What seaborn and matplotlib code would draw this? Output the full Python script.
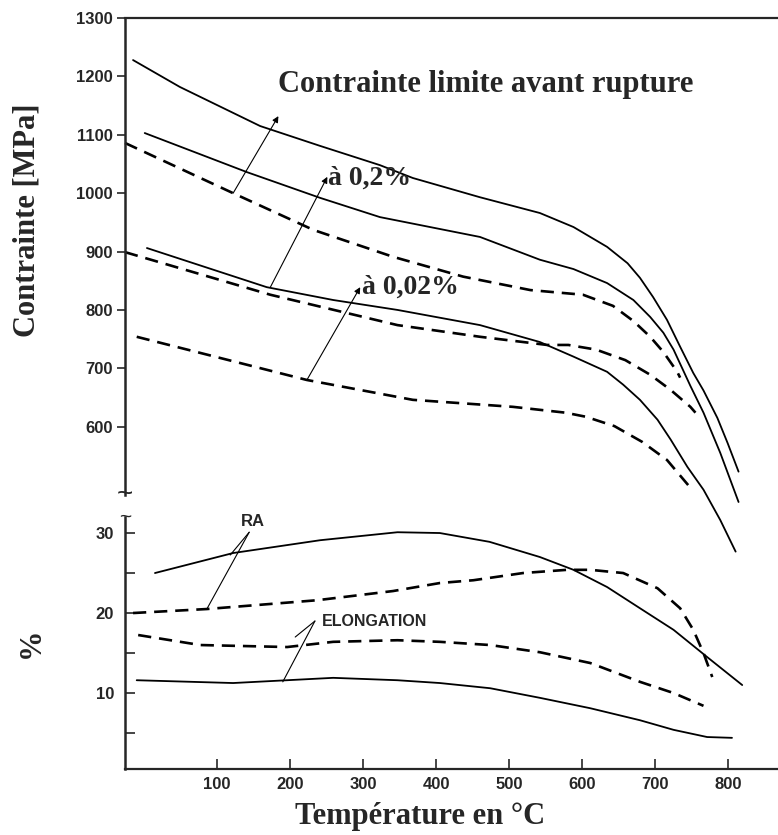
import seaborn as sns
import matplotlib.pyplot as plt

# ---- valeurs (T en °C) ----

# contraintes [MPa]
t_rupture = [-15, 49, 159, 241, 323, 368, 460, 542, 588, 634, 662, 679, 697, 716, 734, 752, 766, 785, 799, 814]
s_rupture = [1228, 1182, 1115, 1081, 1048, 1026, 993, 966, 942, 908, 880, 855, 822, 783, 737, 692, 662, 615, 572, 523]

t_02_a = [1, 141, 241, 323, 460, 542, 588, 634, 670, 693, 711, 725, 738, 748, 766, 789, 814]
s_02_a = [1103, 1036, 992, 959, 925, 886, 870, 846, 817, 788, 761, 732, 697, 670, 624, 555, 471]

t_02_b = [-26, 122, 232, 341, 437, 529, 601, 642, 670, 693, 711, 730, 734]
s_02_b = [1086, 1000, 937, 891, 857, 834, 826, 807, 781, 754, 728, 694, 684]

t_002_a = [4, 168, 259, 347, 460, 542, 588, 634, 656, 679, 703, 721, 744, 766, 789, 810]
s_002_a = [906, 839, 817, 800, 774, 745, 720, 694, 672, 646, 612, 578, 531, 492, 440, 386]

t_002_b = [-26, 173, 347, 460, 552, 581, 619, 659, 693, 721, 748, 755]
s_002_b = [899, 826, 774, 754, 740, 740, 732, 714, 689, 663, 634, 624]

t_002_c = [-10, 223, 368, 505, 577, 605, 644, 682, 716, 745]
s_002_c = [754, 680, 646, 634, 624, 617, 601, 574, 543, 500]

# pourcentages
t_ra_a = [15, 122, 241, 347, 405, 473, 542, 588, 634, 679, 725, 771, 819]
p_ra_a = [25, 27.5, 29.1, 30.1, 30, 28.9, 27, 25.4, 23.25, 20.6, 17.9, 14.5, 11]

t_ra_b = [-15, 86, 237, 341, 405, 451, 519, 579, 611, 656, 703, 734, 752, 766, 778]
p_ra_b = [20, 20.5, 21.6, 22.75, 23.75, 24.1, 25, 25.4, 25.4, 25, 23.1, 20.6, 17.9, 15, 12]

t_el_b = [-8, 77, 196, 259, 347, 405, 474, 542, 611, 679, 725, 766]
p_el_b = [17.25, 16, 15.75, 16.4, 16.6, 16.4, 16, 15.1, 13.75, 11.4, 10, 8.4]

t_el_a = [-10, 122, 259, 347, 405, 474, 542, 611, 679, 725, 771, 805]
p_el_a = [11.6, 11.25, 11.9, 11.6, 11.25, 10.6, 9.4, 8.1, 6.6, 5.4, 4.5, 4.4]

x_ticks = [100, 200, 300, 400, 500, 600, 700, 800]
s_ticks = [600, 700, 800, 900, 1000, 1100, 1200, 1300]
p_ticks = [10, 20, 30]
p_minor = [5, 15, 25]

sns.set_style('ticks')
plt.rcParams['font.family'] = ['Liberation Sans', 'DejaVu Sans']

fig = plt.figure(figsize=(7.78, 8.35), dpi=100)
ax_top = fig.add_axes([0.1607, 0.4072, 0.8393, 0.5712])
ax_bot = fig.add_axes([0.1607, 0.0790, 0.8393, 0.3018])
ax_top.set_zorder(2)
ax_top.patch.set_alpha(0)
ax_bot.patch.set_alpha(0)

plein = dict(color='black', lw=1.3, clip_on=False)
tirets = dict(color='black', lw=1.9, ls=(0, (5, 3)), clip_on=False)

# courbes de contrainte
sns.lineplot(x=t_rupture, y=s_rupture, ax=ax_top, **plein)
sns.lineplot(x=t_02_a, y=s_02_a, ax=ax_top, **plein)
sns.lineplot(x=t_02_b, y=s_02_b, ax=ax_top, **tirets)
sns.lineplot(x=t_002_a, y=s_002_a, ax=ax_top, **plein)
sns.lineplot(x=t_002_b, y=s_002_b, ax=ax_top, **tirets)
sns.lineplot(x=t_002_c, y=s_002_c, ax=ax_top, **tirets)

# courbes en %
sns.lineplot(x=t_ra_a, y=p_ra_a, ax=ax_bot, **plein)
sns.lineplot(x=t_ra_b, y=p_ra_b, ax=ax_bot, **tirets)
sns.lineplot(x=t_el_b, y=p_el_b, ax=ax_bot, **tirets)
sns.lineplot(x=t_el_a, y=p_el_a, ax=ax_bot, **plein)

# axes
for ax in (ax_top, ax_bot):
    ax.set_xlim(-26, 868)
    ax.set_xlabel('')
    ax.set_ylabel('')
    ax.spines['right'].set_visible(False)
    ax.spines['left'].set_linewidth(1.8)

ax_top.set_ylim(483, 1300)
ax_top.spines['bottom'].set_visible(False)
ax_top.spines['top'].set_linewidth(1.6)
ax_top.set_xticks([])
ax_top.set_yticks(s_ticks)
ax_top.tick_params(axis='y', direction='out', length=6, width=1.2, pad=3, labelsize=12)

ax_bot.set_ylim(0.5, 32)
ax_bot.spines['top'].set_visible(False)
ax_bot.spines['bottom'].set_linewidth(1.6)
ax_bot.set_yticks(p_ticks)
ax_bot.set_yticks(p_minor, minor=True)
ax_bot.set_xticks(x_ticks)
ax_bot.tick_params(axis='y', which='both', direction='in', length=7, width=1.2, pad=8, labelsize=12)
ax_bot.tick_params(axis='x', direction='in', length=7, width=1.2, pad=6, labelsize=12)

for lab in ax_top.get_yticklabels() + ax_bot.get_yticklabels() + ax_bot.get_xticklabels():
    lab.set_fontweight('bold')

# coupure de l'axe
ax_top.text(0, 0, '~', transform=ax_top.transAxes, ha='center', va='center', fontsize=20)
ax_bot.text(0, 1, '~', transform=ax_bot.transAxes, ha='center', va='center', fontsize=15)

# annotations
serif = ['Liberation Serif', 'DejaVu Serif']
fleche = dict(arrowstyle='-|>', color='black', lw=0.8, mutation_scale=9, shrinkA=0, shrinkB=0)
ax_top.annotate('', xy=(184, 1132), xytext=(122, 1000), arrowprops=fleche)
ax_top.annotate('', xy=(251, 1028), xytext=(173, 839), arrowprops=fleche)
ax_top.annotate('', xy=(296, 839), xytext=(223, 680), arrowprops=fleche)
ax_top.text(184, 1187, 'Contrainte limite avant rupture', family=serif, weight='bold',
            fontsize=22, ha='left', va='center')
ax_top.text(252, 1026, 'à 0,2%', family=serif, weight='bold', fontsize=20, ha='left', va='center')
ax_top.text(299, 839, 'à 0,02%', family=serif, weight='bold', fontsize=20, ha='left', va='center')

trait = dict(arrowstyle='-', color='black', lw=0.8, shrinkA=0, shrinkB=0)
ax_bot.text(149, 31.4, 'RA', fontsize=12, weight='bold', ha='center', va='center')
ax_bot.annotate('', xy=(118, 27.25), xytext=(144, 30.1), arrowprops=trait)
ax_bot.annotate('', xy=(86, 20.5), xytext=(144, 30.1), arrowprops=trait)
ax_bot.text(244, 18.9, 'ELONGATION', fontsize=11.5, weight='bold', ha='left', va='center')
ax_bot.annotate('', xy=(207, 17), xytext=(234, 19), arrowprops=trait)
ax_bot.annotate('', xy=(190, 11.4), xytext=(234, 19), arrowprops=trait)

fig.text(0.0347, 0.7365, 'Contrainte [MPa]', family=serif, weight='bold', fontsize=22,
         rotation=90, ha='center', va='center')
fig.text(0.04, 0.23, '%', family=serif, weight='bold', fontsize=22,
         rotation=90, ha='center', va='center')
fig.text(0.54, 0.0216, 'Température en °C', family=serif, weight='bold', fontsize=22,
         ha='center', va='center')

fig.savefig('out.png', dpi=100)
